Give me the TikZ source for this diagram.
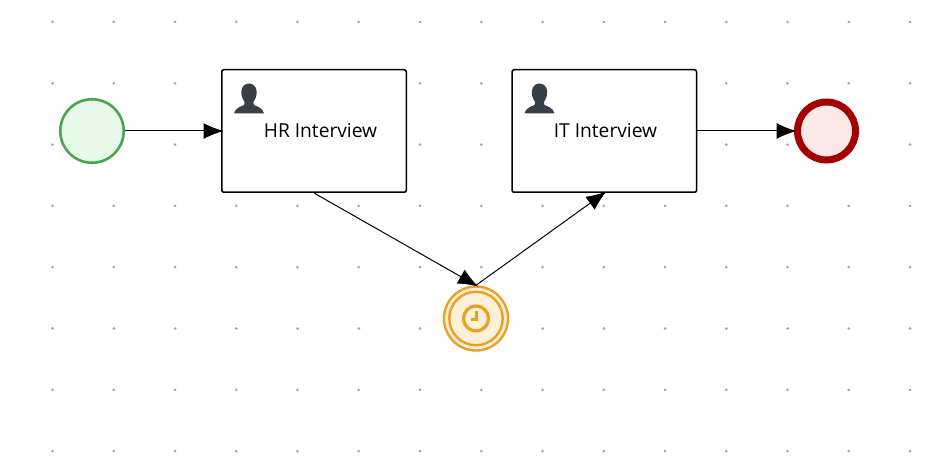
\documentclass[tikz,border=0pt]{standalone}
\usepackage{fontspec}
\setmainfont{Open Sans}
\usetikzlibrary{arrows.meta}
\tikzset{
  x=1pt,y=-1pt,
  griddot/.style={fill=black!35,draw=none,minimum size=0,inner sep=0},
  taskbox/.style={draw=black,line width=1.5pt,rounded corners=2pt,fill=white,minimum width=184.5pt,minimum height=122.5pt,inner sep=0pt},
  tasklabel/.style={font=\fontsize{19.2}{23}\selectfont,inner sep=0pt,text=black},
  flow/.style={draw=black,line width=1pt,-{Latex[length=20pt,width=16pt]},shorten >=-2.5pt},
  startev/.style={circle,draw=startgreen,fill=startfill,line width=2.6pt,minimum size=63.5pt,inner sep=0pt},
  endev/.style={circle,draw=endred,fill=endfill,line width=7pt,minimum size=58pt,inner sep=0pt},
  timerouter/.style={circle,draw=timerorange,fill=timerfill,line width=2.4pt,minimum size=64pt,inner sep=0pt},
  timerinner/.style={circle,draw=timerorange,fill=timerfill,line width=2.4pt,minimum size=53.5pt,inner sep=0pt},
  timerclock/.style={circle,draw=timerorange,fill=timerfill,line width=3.2pt,minimum size=25pt,inner sep=0pt},
}
\definecolor{startgreen}{HTML}{4AA64C}
\definecolor{startfill}{HTML}{E8F8E9}
\definecolor{endred}{HTML}{A30000}
\definecolor{endfill}{HTML}{FDE8E8}
\definecolor{timerorange}{HTML}{EC9F25}
\definecolor{timerfill}{HTML}{FDF0D9}
\definecolor{usericon}{HTML}{393F47}
\newcommand{\usershape}[2]{%
  \fill[usericon] (#1-15,#2+14.5)
    .. controls (#1-14,#2+9) and (#1-8,#2+7.5) .. (#1-5,#2+6)
    .. controls (#1-4,#2+4) and (#1-4,#2+3) .. (#1-5.5,#2+1)
    .. controls (#1-9,#2-4) and (#1-9,#2-15) .. (#1,#2-15.5)
    .. controls (#1+9,#2-15) and (#1+9,#2-4) .. (#1+5.5,#2+1)
    .. controls (#1+4,#2+3) and (#1+4,#2+4) .. (#1+5,#2+6)
    .. controls (#1+8,#2+7.5) and (#1+14,#2+9) .. (#1+15,#2+14.5) -- cycle;
}
\begin{document}
\begin{tikzpicture}
\useasboundingbox (0,0) rectangle (951,462);
\foreach \gx in {52.5,113.75,175,236.25,297.5,358.75,420,481.25,542.5,603.75,665,726.25,787.5,848.75,910}
  \foreach \gy in {22,83.3,144.6,205.9,267.2,328.5,389.8,451.1}
    \fill[griddot] (\gx,\gy) circle (1.5pt);
\node[startev] (start) at (92,131) {};
\node[taskbox] (hr) at (314,131) {};
\node[taskbox] (it) at (604.3,131) {};
\node[endev] (end) at (826.5,131) {};
\node[timerouter] (timer) at (476,318.5) {};
\node[timerinner] (timerin) at (476,318.5) {};
\node[timerclock] (clock) at (476,318.5) {};
\draw[timerorange,line width=2.6pt] (476.5,311.5) -- (476.5,319.5) -- (470.5,319.5);
\usershape{249}{99}
\usershape{539.5}{99}
\node[tasklabel] (hrl) at (320.5,131) {HR Interview};
\node[tasklabel] (itl) at (605.5,131) {IT Interview};
\draw[flow] (start) -- (hr.west);
\draw[flow] (hr.south) -- (timer.north);
\draw[flow] (timer.north) -- (it.south);
\draw[flow] (it.east) -- (end.west);
\end{tikzpicture}
\end{document}
